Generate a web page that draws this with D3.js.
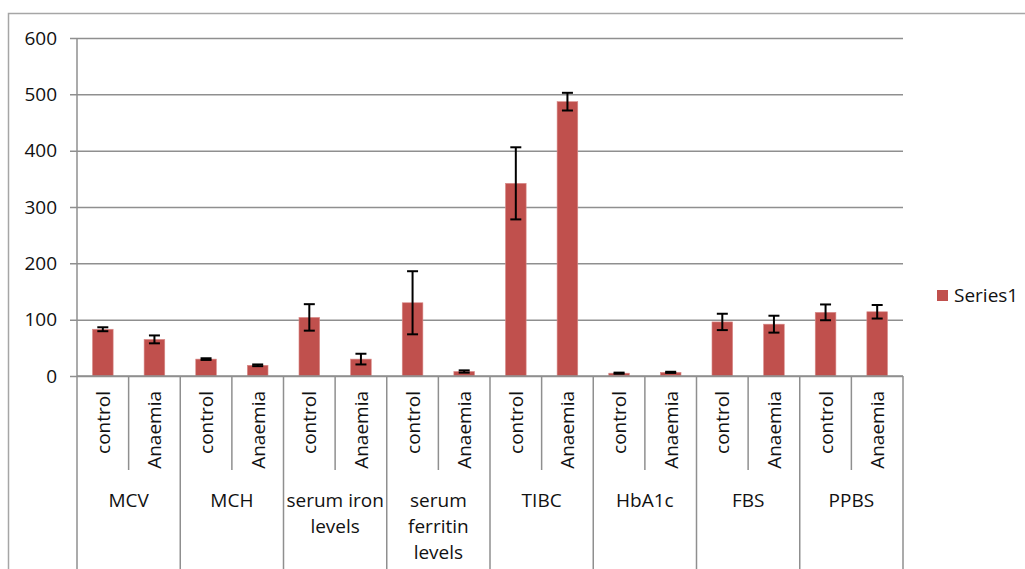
<!DOCTYPE html>
<html><head><meta charset="utf-8">
<script src="https://cdn.jsdelivr.net/npm/d3@7"></script>
<style>
body{margin:0;background:#fff;}
svg{display:block;font-family:"Open Sans",sans-serif;}
</style></head>
<body><svg id="c" width="1025" height="569"></svg>
<script>
const groups = ["MCV","MCH","serum iron levels","serum ferritin levels","TIBC","HbA1c","FBS","PPBS"];
const groupLines = [["MCV"],["MCH"],["serum iron","levels"],["serum","ferritin","levels"],["TIBC"],["HbA1c"],["FBS"],["PPBS"]];
const subs = ["control","Anaemia"];
const values = [83,65, 30,19, 104,30, 130,8, 342,487, 5,6.5, 96,92, 113,114];
const errors = [3.5,7, 1.5,1.5, 23.5,9.5, 56,2, 64,15.7, 1,1, 14.5,15, 14,12];
const yTicks = [0,100,200,300,400,500,600];
const seriesName = "Series1";

const svg = d3.select("#c");
const L=77, R=903, T=38, B=376;
const barColor="#C0504D", gridColor="#8f8f8f", txt="#111", fs=19;

// outer frame
svg.append("path").attr("d","M8.5,569 V13.5 H1025").attr("fill","none").attr("stroke","#a6a6a6").attr("stroke-width",1.5);

const y = d3.scaleLinear().domain([0,600]).range([B,T]);
const cats = [];
groups.forEach((g,gi)=>subs.forEach(s=>cats.push(gi+"|"+s)));
const x = d3.scaleBand().domain(cats).range([L,R]).paddingInner(0).paddingOuter(0);
const gx = d3.scaleBand().domain(groups).range([L,R]);
const bw = x.bandwidth()/2.5;

const yAxis = d3.axisLeft(y).tickValues(yTicks).tickSize(-(R-L)).tickPadding(13).tickSizeOuter(0);
const ya = svg.append("g").attr("transform",`translate(${L},0)`).call(yAxis);
ya.select(".domain").remove();
ya.selectAll(".tick line").attr("stroke",gridColor).attr("stroke-width",1.5).attr("x1",-7);
ya.selectAll(".tick text").attr("font-size",fs).attr("fill",txt).attr("font-family","Open Sans").attr("x",-20);
svg.append("line").attr("x1",L).attr("x2",L).attr("y1",T).attr("y2",569).attr("stroke",gridColor).attr("stroke-width",1.5);

svg.append("g").selectAll("rect").data(values).join("rect")
 .attr("x",(d,i)=>x(cats[i])+(x.bandwidth()-bw)/2)
 .attr("y",d=>y(d)).attr("width",bw).attr("height",d=>B-y(d))
 .attr("fill",barColor).attr("stroke","#d98c8a").attr("stroke-width",0.6);

const eg = svg.append("g").attr("stroke","#000").attr("stroke-width",2);
values.forEach((v,i)=>{
  const cx = x(cats[i])+x.bandwidth()/2;
  const e = errors[i];
  eg.append("line").attr("x1",cx).attr("x2",cx).attr("y1",y(v+e)).attr("y2",y(v-e));
  [v+e,v-e].forEach(t=>eg.append("line").attr("x1",cx-5.5).attr("x2",cx+5.5).attr("y1",y(t)).attr("y2",y(t)));
});

svg.append("line").attr("x1",L).attr("x2",R).attr("y1",B).attr("y2",B).attr("stroke",gridColor).attr("stroke-width",1.5);

groups.forEach((g,gi)=>{
  const gx0 = gx(g);
  svg.append("line").attr("x1",gx0+gx.bandwidth()).attr("x2",gx0+gx.bandwidth()).attr("y1",B).attr("y2",569).attr("stroke",gridColor).attr("stroke-width",1.5);
  const mid = gx0+gx.bandwidth()/2;
  svg.append("line").attr("x1",mid).attr("x2",mid).attr("y1",B).attr("y2",470).attr("stroke",gridColor).attr("stroke-width",1.5);
  const t = svg.append("text").attr("text-anchor","middle").attr("font-size",fs).attr("fill",txt);
  groupLines[gi].forEach((ln,li)=>t.append("tspan").attr("x",mid).attr("y",507+li*26).text(ln));
});

cats.forEach((c,i)=>{
  const cx = x(c)+x.bandwidth()/2;
  svg.append("text").attr("transform",`translate(${cx+7},391) rotate(-90)`)
   .attr("text-anchor","end").attr("font-size",fs).attr("fill",txt).text(subs[i%2]);
});

svg.append("rect").attr("x",937).attr("y",290).attr("width",11).attr("height",11).attr("fill",barColor);
svg.append("text").attr("x",954).attr("y",302).attr("font-size",fs).attr("fill",txt).text(seriesName);
</script></body></html>
